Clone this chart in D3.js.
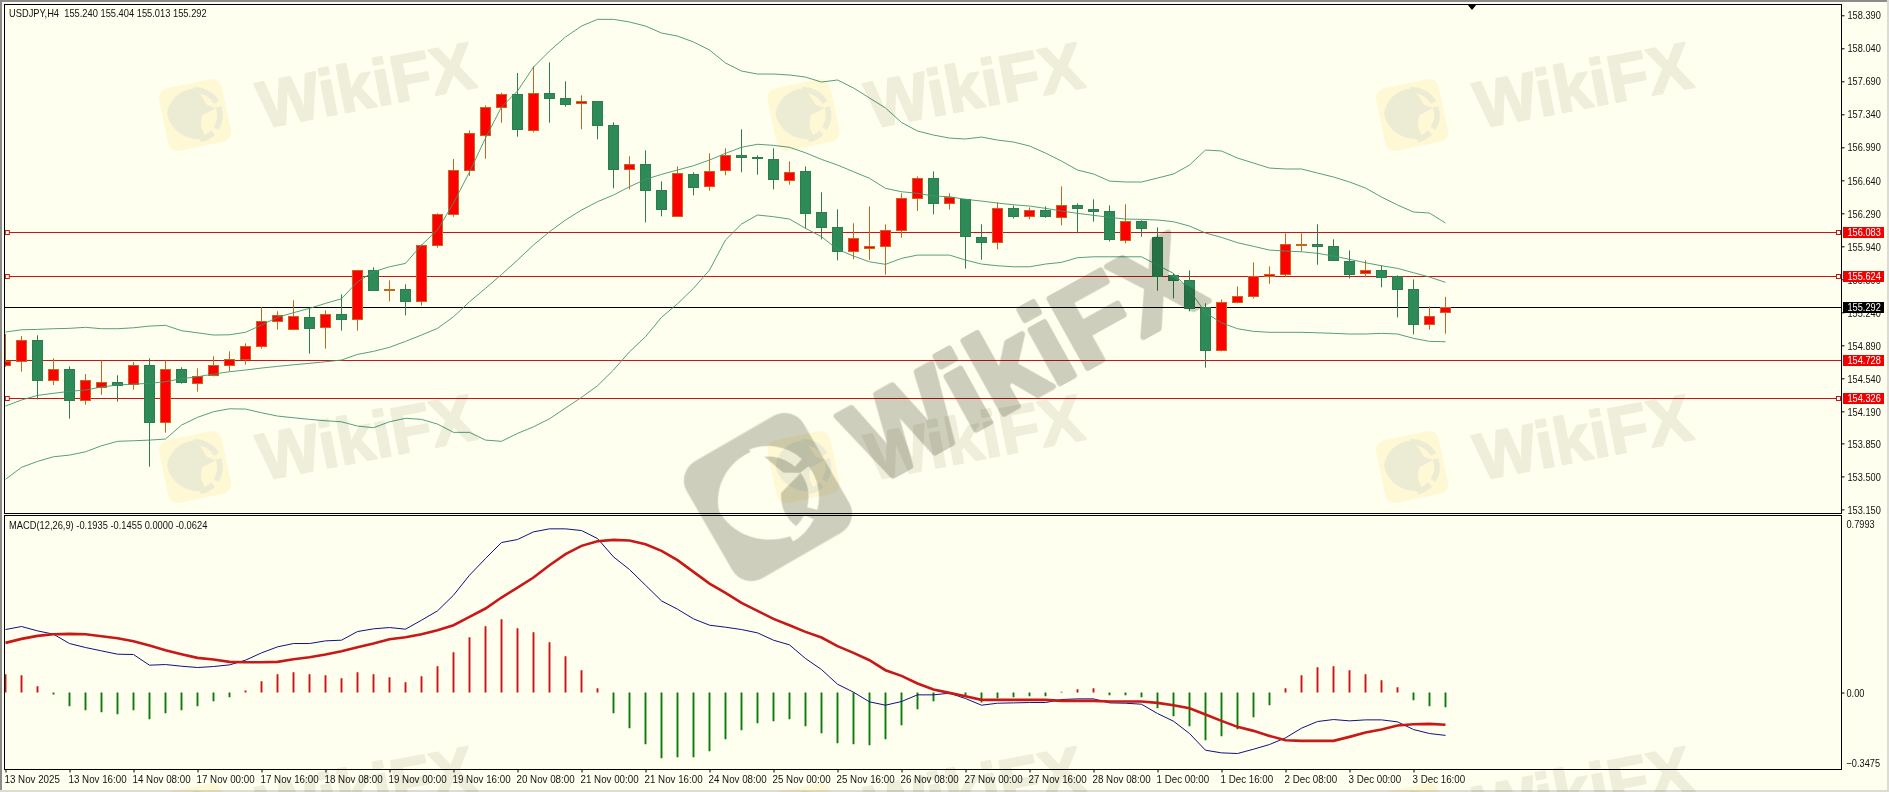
<!DOCTYPE html>
<html>
<head>
<meta charset="utf-8">
<script src="https://cdn.jsdelivr.net/npm/d3@7"></script>
<style>
  html, body { margin: 0; padding: 0; background: #fffff0; overflow: hidden; }
  svg { display: block; }
  text { font-family: "Liberation Sans", sans-serif; font-size: 11.5px; fill: #111; white-space: pre; }
</style>
</head>
<body>
<svg id="chart" width="1889" height="792"></svg>
<script>
// USDJPY H4 candles
const opens = [154.674,154.717,154.943,154.515,154.636,154.307,154.448,154.498,154.476,154.678,154.070,154.636,154.487,154.572,154.678,154.742,154.879,155.145,155.060,155.187,155.081,155.219,155.166,155.685,155.473,155.484,155.357,155.947,156.275,156.742,157.117,157.414,157.552,157.170,157.562,157.509,157.456,157.478,157.223,156.756,156.809,156.534,156.258,156.703,156.576,156.746,156.905,156.884,156.862,156.640,156.735,156.300,156.141,155.887,155.919,155.940,156.109,156.449,156.661,156.396,156.438,156.035,155.982,156.342,156.258,156.325,156.247,156.374,156.332,156.311,156.003,156.205,156.035,155.632,155.579,155.292,154.836,155.346,155.409,155.625,155.642,155.954,155.961,155.939,155.780,155.653,155.685,155.621,155.483,155.112,155.240];
const highs = [155.010,154.989,154.996,154.752,154.667,154.586,154.731,154.572,154.713,154.752,154.731,154.657,154.646,154.773,154.826,154.911,155.293,155.251,155.367,155.282,155.261,155.431,155.689,155.717,155.579,155.537,155.961,156.290,156.866,157.170,157.435,157.569,157.778,157.849,157.891,157.690,157.541,157.478,157.255,156.894,156.958,156.629,156.788,156.725,156.926,156.979,157.181,156.905,156.979,156.841,156.788,156.513,156.332,156.184,156.364,156.173,156.502,156.682,156.735,156.502,156.445,156.173,156.406,156.374,156.353,156.364,156.576,156.395,156.438,156.374,156.385,156.215,156.141,155.653,155.685,155.335,155.377,155.515,155.770,155.727,156.077,156.077,156.173,156.014,155.897,155.791,155.738,155.632,155.589,155.303,155.404];
const lows = [154.660,154.611,154.317,154.469,154.112,154.261,154.367,154.293,154.420,153.603,153.964,154.484,154.399,154.561,154.614,154.685,154.855,155.056,155.060,154.802,154.855,155.046,155.046,155.473,155.357,155.208,155.311,155.925,156.254,156.686,156.869,157.251,157.103,157.149,157.251,157.421,157.181,157.075,156.555,156.544,156.194,156.258,156.258,156.481,156.530,156.693,156.725,156.700,156.544,156.594,156.131,156.014,155.791,155.802,155.795,155.639,156.032,156.315,156.279,156.329,155.703,155.798,155.908,156.236,156.226,156.243,156.162,156.077,156.201,155.992,155.971,156.042,155.469,155.388,155.250,154.653,154.826,155.335,155.388,155.543,155.621,155.886,155.745,155.791,155.600,155.611,155.505,155.186,155.006,155.056,155.013];
const closes = [154.717,154.943,154.515,154.636,154.307,154.519,154.498,154.469,154.678,154.070,154.636,154.494,154.561,154.678,154.742,154.879,155.145,155.208,155.198,155.067,155.219,155.162,155.685,155.473,155.484,155.357,155.950,156.279,156.746,157.138,157.414,157.552,157.181,157.562,157.509,157.446,157.478,157.223,156.756,156.809,156.534,156.332,156.714,156.566,156.735,156.905,156.884,156.873,156.650,156.725,156.290,156.141,155.887,156.025,155.940,156.109,156.449,156.661,156.396,156.456,156.045,155.978,156.342,156.258,156.321,156.258,156.374,156.342,156.311,156.014,156.205,156.130,155.625,155.579,155.282,154.836,155.346,155.409,155.621,155.642,155.961,155.961,155.939,155.791,155.642,155.685,155.611,155.483,155.112,155.197,155.292];

// Bollinger bands
const bandUpper = [155.031,155.055,155.059,155.066,155.070,155.081,155.066,155.066,155.076,155.094,155.102,155.045,155.023,154.999,155.002,155.028,155.105,155.187,155.236,155.282,155.335,155.384,155.564,155.670,155.723,155.759,155.954,156.113,156.399,156.728,157.088,157.417,157.587,157.841,158.011,158.160,158.276,158.347,158.347,158.319,158.276,158.202,158.170,158.107,158.022,157.884,157.799,157.767,157.767,157.757,157.735,157.682,157.704,157.619,157.513,157.407,157.253,157.163,157.120,157.088,157.078,157.099,157.067,157.046,157.004,156.929,156.844,156.749,156.707,156.632,156.622,156.622,156.664,156.707,156.802,156.961,156.951,156.876,156.823,156.770,156.760,156.760,156.717,156.675,156.622,156.558,156.463,156.378,156.304,156.293,156.187];
const bandMiddle = [154.246,154.310,154.359,154.381,154.402,154.416,154.448,154.469,154.479,154.487,154.504,154.536,154.557,154.585,154.610,154.628,154.649,154.667,154.684,154.699,154.716,154.734,154.794,154.826,154.869,154.932,154.999,155.070,155.193,155.352,155.494,155.641,155.794,155.954,156.095,156.219,156.325,156.413,156.484,156.572,156.650,156.703,156.749,156.795,156.855,156.926,156.990,157.022,157.011,156.990,156.932,156.862,156.802,156.731,156.661,156.555,156.519,156.502,156.473,156.466,156.438,156.420,156.399,156.381,156.367,156.343,156.314,156.290,156.269,156.247,156.229,156.226,156.219,156.201,156.155,156.081,156.035,155.978,155.940,155.900,155.890,155.882,155.866,155.837,155.802,155.766,155.734,155.706,155.660,155.614,155.558];
const bandLower = [153.469,153.596,153.659,153.708,153.726,153.761,153.825,153.872,153.878,153.885,153.896,154.044,154.126,154.186,154.217,154.214,154.175,154.140,154.122,154.105,154.090,154.079,154.034,154.016,154.079,154.116,154.105,154.055,153.967,153.967,153.885,153.872,153.956,154.026,154.111,154.225,154.338,154.461,154.628,154.822,154.981,155.187,155.331,155.494,155.688,156.007,156.176,156.272,156.254,156.229,156.131,156.042,155.908,155.837,155.776,155.749,155.812,155.847,155.847,155.847,155.794,155.752,155.734,155.723,155.723,155.752,155.770,155.819,155.829,155.829,155.829,155.829,155.741,155.653,155.476,155.236,155.129,155.066,155.038,155.028,155.028,155.028,155.023,155.017,155.010,155.010,155.017,155.010,154.964,154.932,154.928];

// MACD pane
const macdLine = [.2844,.2980,.2784,.2634,.2212,.2032,.1881,.1731,.1716,.1234,.1264,.1189,.1129,.1174,.1249,.1460,.1791,.2062,.2212,.2212,.2333,.2363,.2754,.2875,.2935,.2860,.3266,.3687,.4395,.5298,.6050,.6773,.6908,.7254,.7390,.7390,.7314,.6953,.6125,.5553,.4846,.4139,.3763,.3326,.3040,.2950,.2844,.2694,.2363,.2152,.1535,.1038,.0376,.0015,-.0421,-.0572,-.0406,-.0105,-.0105,-.0030,-.0271,-.0572,-.0482,-.0467,-.0452,-.0452,-.0316,-.0286,-.0286,-.0467,-.0482,-.0527,-.0948,-.1294,-.1851,-.2604,-.2724,-.2754,-.2559,-.2348,-.2047,-.1610,-.1309,-.1219,-.1279,-.1234,-.1234,-.1324,-.1671,-.1851,-.1935];
const signalLine = [.2242,.2423,.2559,.2634,.2649,.2634,.2543,.2453,.2318,.2122,.1911,.1731,.1565,.1490,.1385,.1370,.1370,.1385,.1505,.1595,.1716,.1866,.2047,.2212,.2408,.2498,.2634,.2814,.3040,.3416,.3793,.4289,.4741,.5192,.5749,.6246,.6622,.6833,.6893,.6863,.6697,.6396,.5975,.5448,.4921,.4500,.4048,.3687,.3326,.3040,.2739,.2483,.2092,.1791,.1460,.1008,.0753,.0406,.0135,-.0015,-.0166,-.0331,-.0331,-.0331,-.0331,-.0331,-.0376,-.0376,-.0376,-.0406,-.0406,-.0406,-.0467,-.0572,-.0707,-.0993,-.1279,-.1550,-.1731,-.1957,-.2152,-.2182,-.2182,-.2182,-.2002,-.1806,-.1671,-.1490,-.1430,-.1415,-.1455];
const histogram = [.0828,.0783,.0286,-.0090,-.0617,-.0798,-.0888,-.0978,-.0798,-.1204,-.0933,-.0798,-.0617,-.0391,-.0211,.0090,.0512,.0828,.0918,.0828,.0783,.0647,.0918,.0828,.0692,.0467,.0737,.1189,.1821,.2498,.2995,.3311,.2905,.2724,.2273,.1640,.1008,.0196,-.0933,-.1610,-.2333,-.2965,-.2920,-.2920,-.2649,-.2107,-.1701,-.1385,-.1294,-.1204,-.1520,-.1836,-.2288,-.2333,-.2378,-.2107,-.1475,-.0753,-.0391,-.0075,-.0196,-.0452,-.0256,-.0211,-.0166,-.0166,.0030,.0150,.0196,-.0120,-.0120,-.0211,-.0707,-.1069,-.1520,-.2152,-.1972,-.1656,-.1114,-.0572,.0196,.0783,.1144,.1189,.1008,.0828,.0557,.0241,-.0346,-.0617,-.0662];

// Horizontal levels and axis labels
const redLevels = [156.083, 155.624, 154.728, 154.326];
const anchoredLevels = [156.083, 155.624, 154.326];
const lastPrice = 155.292;
const priceTicks = [158.39,158.04,157.69,157.34,156.99,156.64,156.29,155.94,155.59,155.24,154.89,154.54,154.19,153.85,153.50,153.15];
const macdTicks = [0.7993, 0, -0.3475];
const timeTickIndex = [0,4,8,12,16,20,24,28,32,36,40,44,48,52,56,60,64,68,72,76,80,84,88];
const timeLabels = ['13 Nov 2025','13 Nov 16:00','14 Nov 08:00','17 Nov 00:00','17 Nov 16:00','18 Nov 08:00','19 Nov 00:00','19 Nov 16:00','20 Nov 08:00','21 Nov 00:00','21 Nov 16:00','24 Nov 08:00','25 Nov 00:00','25 Nov 16:00','26 Nov 08:00','27 Nov 00:00','27 Nov 16:00','28 Nov 08:00','1 Dec 00:00','1 Dec 16:00','2 Dec 08:00','3 Dec 00:00','3 Dec 16:00'];

const svg = d3.select('#chart');
const paneLeft = 4.5, paneRight = 1841.5;
const mainTop = 4.5, mainBottom = 513.5, macdTop = 515.5, macdBottom = 769.5;

const x = d3.scaleLinear().domain([0, opens.length - 1]).range([5.5, 1445.5]);
const y = d3.scaleLinear().domain([158.39, 153.15]).range([15.3, 509.4]);
const yMacd = d3.scaleLinear().domain([0.7993, -0.3475]).range([macdTop, macdBottom]);
const snap = v => Math.round(v - 0.5) + 0.5;

// The terminal font is narrower than anything installed, so squeeze the glyphs
const squeeze = (selection, factor) => {
  selection.each(function () {
    const width = this.getComputedTextLength();
    d3.select(this).attr('textLength', width * factor).attr('lengthAdjust', 'spacingAndGlyphs');
  });
};

const defs = svg.append('defs');
defs.append('clipPath').attr('id', 'main-clip').append('rect')
  .attr('x', paneLeft).attr('y', mainTop).attr('width', paneRight - paneLeft).attr('height', mainBottom - mainTop);
defs.append('clipPath').attr('id', 'macd-clip').append('rect')
  .attr('x', paneLeft).attr('y', macdTop).attr('width', paneRight - paneLeft).attr('height', macdBottom - macdTop);

// Window chrome
svg.append('rect').attr('width', 1889).attr('height', 2).attr('fill', '#8c8c8c');
svg.append('rect').attr('width', 2).attr('height', 792).attr('fill', '#8c8c8c');
svg.append('rect').attr('x', 1887).attr('width', 2).attr('height', 792).attr('fill', '#dcdcd4');
svg.append('rect').attr('y', 790).attr('width', 1889).attr('height', 2).attr('fill', '#dcdcd4');

// Main pane
const main = svg.append('g').attr('clip-path', 'url(#main-clip)');

main.selectAll('line.level').data(redLevels).join('line')
  .attr('class', 'level')
  .attr('x1', paneLeft).attr('x2', paneRight)
  .attr('y1', d => snap(y(d))).attr('y2', d => snap(y(d)))
  .attr('stroke', '#c81414').attr('stroke-width', 1.2);

main.append('line')
  .attr('x1', paneLeft).attr('x2', paneRight)
  .attr('y1', snap(y(lastPrice))).attr('y2', snap(y(lastPrice)))
  .attr('stroke', '#000').attr('stroke-width', 1.2);

const candles = opens.map((o, i) => ({ i, o, h: highs[i], l: lows[i], c: closes[i], up: closes[i] >= o }));
const edgeColor = d => d.up ? '#c8651e' : '#2e7d50';

main.selectAll('line.wick').data(candles).join('line')
  .attr('class', 'wick')
  .attr('x1', d => x(d.i)).attr('x2', d => x(d.i))
  .attr('y1', d => y(d.h)).attr('y2', d => y(d.l))
  .attr('stroke', edgeColor).attr('stroke-width', 1);

main.selectAll('rect.body').data(candles).join('rect')
  .attr('class', 'body')
  .attr('x', d => x(d.i) - 5)
  .attr('width', 10)
  .attr('y', d => snap(y(Math.max(d.o, d.c))))
  .attr('height', d => Math.max(1, Math.round(y(Math.min(d.o, d.c)) - y(Math.max(d.o, d.c)))))
  .attr('fill', d => d.up ? '#ff0000' : '#2e8b57')
  .attr('stroke', edgeColor).attr('stroke-width', 1);

const bandPath = d3.line().x((d, i) => x(i)).y(d => y(d));
[bandUpper, bandMiddle, bandLower].forEach(band => {
  main.append('path').datum(band)
    .attr('d', bandPath)
    .attr('fill', 'none').attr('stroke', '#3f9470').attr('stroke-width', 0.9);
});

// Little hollow anchors of the drawn levels
[x.range()[0] + 1.8, paneRight - 3].forEach(ax => {
  main.selectAll(null).data(anchoredLevels).join('rect')
    .attr('x', ax - 2).attr('width', 4).attr('height', 4)
    .attr('y', d => snap(y(d)) - 2)
    .attr('fill', '#fffff0').attr('stroke', '#c81414').attr('stroke-width', 1);
});

// Marker at the top edge
svg.append('path')
  .attr('d', d3.line()([[1467, 4], [1477, 4], [1472, 10]]))
  .attr('fill', '#000');

svg.append('text').attr('x', 9).attr('y', 17)
  .text('USDJPY,H4  155.240 155.404 155.013 155.292')
  .call(squeeze, 0.81);

// MACD pane
const macdPane = svg.append('g').attr('clip-path', 'url(#macd-clip)');

macdPane.selectAll('line.hist').data(histogram).join('line')
  .attr('class', 'hist')
  .attr('x1', (d, i) => x(i)).attr('x2', (d, i) => x(i))
  .attr('y1', yMacd(0)).attr('y2', d => yMacd(d))
  .attr('stroke', d => d >= 0 ? '#cc1414' : '#0e7a0e').attr('stroke-width', 1.9);

const macdPath = d3.line().x((d, i) => x(i)).y(d => yMacd(d));
macdPane.append('path').datum(macdLine)
  .attr('d', macdPath)
  .attr('fill', 'none').attr('stroke', '#10107e').attr('stroke-width', 1);
macdPane.append('path').datum(signalLine)
  .attr('d', macdPath)
  .attr('fill', 'none').attr('stroke', '#c81818').attr('stroke-width', 2.6);

svg.append('text').attr('x', 9).attr('y', 529)
  .text('MACD(12,26,9) -0.1935 -0.1455 0.0000 -0.0624')
  .call(squeeze, 0.81);

// Axes
const priceAxis = svg.append('g').attr('transform', `translate(${paneRight},0)`)
  .call(d3.axisRight(y).tickValues(priceTicks).tickFormat(d3.format('.3f')).tickSize(3).tickPadding(3));
priceAxis.select('.domain').remove();
priceAxis.selectAll('text').call(squeeze, 0.8);

const macdAxis = svg.append('g').attr('transform', `translate(${paneRight},0)`)
  .call(d3.axisRight(yMacd).tickValues(macdTicks)
    .tickFormat(d => d === 0 ? '0.00' : d3.format('.4f')(d)).tickSize(3).tickPadding(2));
macdAxis.select('.domain').remove();
macdAxis.selectAll('.tick').filter(d => d !== 0).select('line').remove();
macdAxis.selectAll('.tick').filter(d => d > 0).select('text').attr('dy', '1.0em');
macdAxis.selectAll('.tick').filter(d => d < 0).select('text').attr('dy', '-0.25em');
macdAxis.selectAll('text').call(squeeze, 0.8);

const timeAxis = svg.append('g').attr('transform', `translate(0,${macdBottom})`)
  .call(d3.axisBottom(x).tickValues(timeTickIndex).tickFormat((d, i) => timeLabels[i]).tickSize(3).tickPadding(2));
timeAxis.select('.domain').remove();
timeAxis.selectAll('text').attr('text-anchor', 'start').attr('dx', -1.5).call(squeeze, 0.85);

svg.selectAll('.tick line').attr('stroke', '#000');

// Price flags sit over the axis labels
const flags = redLevels.map(v => ({ v, color: '#f00000' })).concat([{ v: lastPrice, color: '#000' }]);
const flag = svg.selectAll('g.flag').data(flags).join('g')
  .attr('class', 'flag')
  .attr('transform', d => `translate(1843,${snap(y(d.v))})`);
flag.append('rect').attr('y', -5.5).attr('width', 41).attr('height', 11).attr('fill', d => d.color);
flag.append('text').attr('x', 4.5).attr('dy', '0.34em')
  .style('fill', '#fff')
  .text(d => d3.format('.3f')(d.v))
  .call(squeeze, 0.8);

// Pane frames
[[mainTop, mainBottom], [macdTop, macdBottom]].forEach(([top, bottom]) => {
  svg.append('rect')
    .attr('x', paneLeft).attr('y', top)
    .attr('width', paneRight - paneLeft).attr('height', bottom - top)
    .attr('fill', 'none').attr('stroke', '#000').attr('stroke-width', 1);
});

// Eagle badge, drawn around 0,0
const drawBadge = (g, side, radius, scale, boxColor, birdColor) => {
  g.append('rect')
    .attr('x', -side / 2).attr('y', -side / 2)
    .attr('width', side).attr('height', side).attr('rx', radius)
    .attr('fill', boxColor);
  const bird = g.append('g').attr('transform', `scale(${scale})`);
  bird.append('path')
    .attr('d', 'M-33,-8 C-27,-26 -8,-35 9,-31 L17,-9 L27,-3 L9,2 C4,10 2,19 9,31 C-14,31 -33,14 -33,-8Z')
    .attr('fill', birdColor);
  const arc = d3.arc().innerRadius(27).outerRadius(34);
  [[0.15, 1.25], [1.45, 2.35], [2.55, 3.15]].forEach(([a, b]) => {
    bird.append('path').attr('d', arc({ startAngle: a, endAngle: b })).attr('fill', birdColor);
  });
};

// Pale repeating watermark
const tileDx = 608.5, tileDy = 352;
const tiles = d3.cross(d3.range(3), d3.range(3));
tiles.forEach(([col, row]) => {
  const tile = svg.append('g')
    .style('mix-blend-mode', 'multiply')
    .attr('transform', `translate(${col * tileDx},${row * tileDy})`);
  const badge = tile.append('g').attr('transform', 'translate(195,115) rotate(-12)');
  drawBadge(badge, 64, 10, 0.82, '#fff8e2', '#ecebe2');
  tile.append('text')
    .attr('transform', 'translate(366,85) rotate(-11)')
    .attr('text-anchor', 'middle').attr('dy', '0.35em')
    .style('font-family', '"Liberation Sans", sans-serif')
    .style('font-size', '66px').style('font-weight', 700)
    .style('fill', '#efeee8').style('stroke', '#efeee8').style('stroke-width', 2).style('stroke-linejoin', 'round')
    .text('WikiFX');
});

// Large grey watermark in the middle
const bigMark = svg.append('g').style('mix-blend-mode', 'multiply');
drawBadge(bigMark.append('g').attr('transform', 'translate(768,497) rotate(-30)'), 135, 22, 1.5, '#cdcec8', '#ffffff');
bigMark.append('text')
  .attr('transform', 'translate(1023,358) rotate(-29)')
  .attr('text-anchor', 'middle').attr('dy', '0.35em')
  .style('font-family', '"Liberation Sans", sans-serif')
  .style('font-size', '115px').style('font-weight', 700)
  .style('fill', '#cdcec8').style('stroke', '#cdcec8').style('stroke-width', 6).style('stroke-linejoin', 'round')
  .text('WikiFX');
</script>
</body>
</html>
